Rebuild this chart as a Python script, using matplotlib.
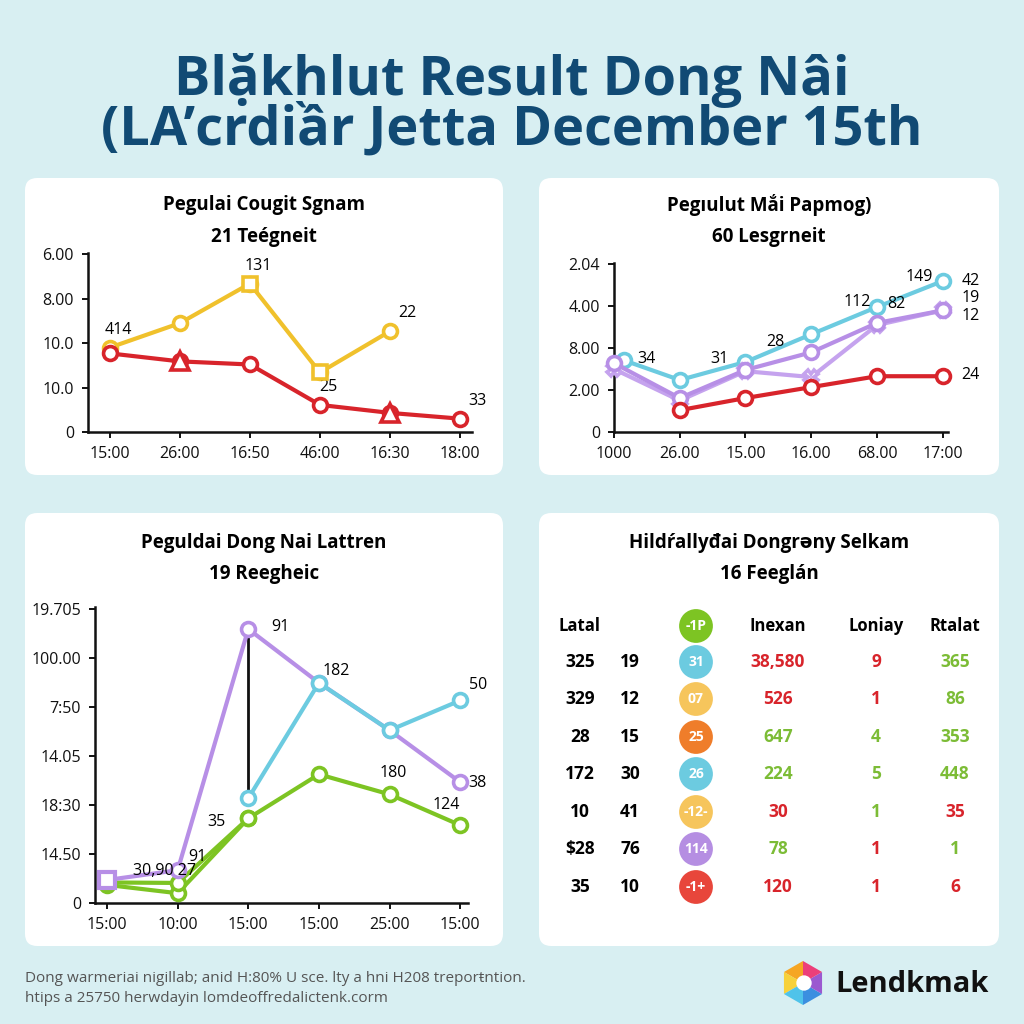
import numpy as np
import matplotlib
matplotlib.use("Agg")
import matplotlib.pyplot as plt
from matplotlib.patches import FancyBboxPatch, Polygon, Circle

plt.rcParams['font.family'] = ['Open Sans', 'DejaVu Sans']

BG = '#d8eff2'
NAVY = '#114a74'
YELLOW = '#f0c12c'
RED = '#d8242b'
CYAN = '#6ccbe0'
PURPLE = '#b78fe6'
GREEN = '#7dc423'

title_lines = ["Blặkhlut Result Dong Nâi", "(LA’crdiầr Jetta December 15th"]

# panel 1
p1_title = ["Pegulai Cougit Sgnam", "21 Teégneit"]
p1_xlabels = ["15:00", "26:00", "16:50", "46:00", "16:30", "18:00"]
p1_ylabels = ["0", "10.0", "10.0", "8.00", "6.00"]
p1_yellow = [1.9, 2.45, 3.34, 1.34, 2.27]
p1_red = [1.77, 1.59, 1.52, 0.61, 0.43, 0.30]
p1_notes = [("414", 0, 1.9), ("131", 2, 3.34), ("22", 4, 2.27), ("25", 3, 0.61), ("33", 5, 0.30)]

# panel 2
p2_title = ["Pegıulut Mắi Papmog)", "60 Lesgrneit"]
p2_xlabels = ["1000", "26.00", "15.00", "16.00", "68.00", "17:00"]
p2_ylabels = ["0", "2.00", "8.00", "4.00", "2.04"]
p2_x = [0.15, 1, 2, 3, 4, 5]
p2_cyan = [1.71, 1.24, 1.67, 2.33, 2.98, 3.6]
p2_purple_a = [1.64, 0.81, 1.48, 1.9, 2.6, 2.9]
p2_purple_b = [1.5, 0.75, 1.45, 1.31, 2.55, 2.9]
p2_red_x = [1, 2, 3, 4, 5]
p2_red = [0.52, 0.81, 1.07, 1.33, 1.33]
p2_notes = [("34", 0.5, 1.75), ("31", 1.6, 1.75), ("28", 2.45, 2.15), ("112", 3.7, 3.1),
            ("82", 4.3, 3.05), ("149", 4.65, 3.7), ("42", 5.42, 3.6), ("19", 5.42, 3.2),
            ("12", 5.42, 2.76), ("24", 5.42, 1.35)]

# panel 3
p3_title = ["Peguldai Dong Nai Lattren", "19 Reegheic"]
p3_xlabels = ["15:00", "10:00", "15:00", "15:00", "25:00", "15:00"]
p3_ylabels = ["0", "14.50", "18:30", "14.05", "7:50", "100.00", "19.705"]
p3_purple = [0.47, 0.67, 5.6, 4.5, 3.53, 2.47]
p3_cyan_x = [2, 3, 4, 5]
p3_cyan = [2.14, 4.5, 3.53, 4.14]
p3_green = [0.37, 0.2, 1.73, 2.63, 2.22, 1.59]
p3_green2 = [0.42, 0.41, 1.73]
p3_notes = [("91", 2.45, 5.65), ("182", 3.25, 4.75), ("50", 5.25, 4.45), ("38", 5.25, 2.45),
            ("180", 4.05, 2.65), ("124", 4.8, 2.0), ("35", 1.55, 1.65), ("30,90 27", 0.82, 0.65),
            ("91", 1.28, 0.93)]

# panel 4 table
p4_title = ["Hildŕallyđai Dongrəny Selkam", "16 Feeglán"]
p4_headers = ["Latal", "", "-1P", "Inexan", "Loniay", "Rtalat"]
p4_col1 = ["325", "329", "28", "172", "10", "$28", "35"]
p4_col2 = ["19", "12", "15", "30", "41", "76", "10"]
p4_ball = ["31", "07", "25", "26", "-12-", "114", "-1+"]
p4_ball_col = [CYAN, '#f6c55c', '#ef7d2a', CYAN, '#f6c55c', '#b58ee2', '#e8463b']
p4_inexan = ["38,580", "526", "647", "224", "30", "78", "120"]
p4_loniay = ["9", "1", "4", "5", "1", "1", "1"]
p4_rtalat = ["365", "86", "353", "448", "35", "1", "6"]
p4_inexan_c = ['r', 'r', 'g', 'g', 'r', 'g', 'r']
p4_loniay_c = ['r', 'r', 'g', 'g', 'g', 'r', 'r']
p4_rtalat_c = ['g', 'g', 'g', 'g', 'r', 'g', 'r']

fig = plt.figure(figsize=(10.24, 10.24), dpi=100)
fig.patch.set_facecolor(BG)


def fx(x):
    return x / 1024


def fy(y):
    return 1 - y / 1024


def panel(x0, y0, x1, y1):
    fig.patches.append(FancyBboxPatch((fx(x0), fy(y1)), fx(x1 - x0), (y1 - y0) / 1024,
                                      boxstyle="round,pad=0,rounding_size=0.012",
                                      transform=fig.transFigure, facecolor='white',
                                      edgecolor='none', zorder=-5))


def axes_px(l, t, r, b):
    ax = fig.add_axes([fx(l), fy(b), fx(r - l), (b - t) / 1024])
    ax.set_facecolor('none')
    for s in ['top', 'right']:
        ax.spines[s].set_visible(False)
    for s in ['left', 'bottom']:
        ax.spines[s].set_linewidth(1.8)
        ax.spines[s].set_color('#111111')
    ax.tick_params(length=4, width=1.4, labelsize=11.5, colors='#111111', pad=6)
    return ax


def line(ax, x, y, color, marker='o', z=3):
    ax.plot(x, y, color=color, lw=3, marker=marker, ms=10, mfc='white', mec=color,
            mew=2.6, zorder=z, clip_on=False)


for t, y in zip(title_lines, [80, 130]):
    fig.text(0.5, fy(y), t, ha='center', va='center', fontsize=39, fontweight='bold',
             color=NAVY)

panel(25, 178, 503, 475)
panel(539, 178, 999, 475)
panel(25, 513, 503, 946)
panel(539, 513, 999, 946)

# panel 1
for t, y in zip(p1_title, [205, 237]):
    fig.text(fx(264), fy(y), t, ha='center', va='center', fontsize=13.5, fontweight='bold')
ax = axes_px(88, 253, 472, 432)
ax.set_xlim(-0.31, 5.17)
ax.set_ylim(0, 4.03)
line(ax, range(len(p1_yellow)), p1_yellow, YELLOW)
line(ax, range(len(p1_red)), p1_red, RED)
ax.plot([1, 4], [p1_red[1], p1_red[4]], ls='none', marker='^', ms=13, mfc='white',
        mec=RED, mew=2.6, zorder=4)
ax.plot([2, 3], [p1_yellow[2], p1_yellow[3]], ls='none', marker='s', ms=10, mfc='white',
        mec=YELLOW, mew=2.6, zorder=4)
ax.set_xticks(range(6), p1_xlabels)
ax.set_yticks(range(5), p1_ylabels)
for s, xi, yi in p1_notes:
    ax.annotate(s, (xi, yi), xytext=(6, 10), textcoords='offset points', fontsize=11.5,
                ha='center' if xi < 4 else 'left')

# panel 2
for t, y in zip(p2_title, [205, 237]):
    fig.text(fx(769), fy(y), t, ha='center', va='center', fontsize=13.5, fontweight='bold')
ax = axes_px(614, 263, 948, 432)
ax.set_xlim(0, 5.08)
ax.set_ylim(0, 4.03)
line(ax, p2_x, p2_cyan, CYAN)
line(ax, [0] + p2_x[1:], p2_purple_b, '#c5a3ee', marker='X', z=3)
line(ax, [0] + p2_x[1:], p2_purple_a, PURPLE, marker='o', z=3)
line(ax, p2_red_x, p2_red, RED)
ax.set_xticks(range(6), p2_xlabels)
ax.set_yticks(range(5), p2_ylabels)
for s, xi, yi in p2_notes:
    ax.text(xi, yi, s, fontsize=11.5, ha='center', va='center')

# panel 3
for t, y in zip(p3_title, [543, 574]):
    fig.text(fx(264), fy(y), t, ha='center', va='center', fontsize=13.5, fontweight='bold')
ax = axes_px(95, 607, 468, 903)
ax.set_xlim(-0.17, 5.11)
ax.set_ylim(0, 6.05)
line(ax, range(6), p3_green, GREEN)
line(ax, range(3), p3_green2, GREEN)
line(ax, range(6), p3_purple, PURPLE)
line(ax, p3_cyan_x, p3_cyan, CYAN)
ax.plot([2, 2], [p3_cyan[0], p3_purple[2]], color='#111111', lw=2, zorder=2)
ax.plot([0], [p3_purple[0]], marker='s', ms=12, mfc='white', mec=PURPLE, mew=3, zorder=5)
ax.set_xticks(range(6), p3_xlabels)
ax.set_yticks(range(7), p3_ylabels)
for s, xi, yi in p3_notes:
    ax.text(xi, yi, s, fontsize=11.5, ha='center', va='center')

# panel 4 table
for t, y in zip(p4_title, [543, 574]):
    fig.text(fx(769), fy(y), t, ha='center', va='center', fontsize=13.5, fontweight='bold')
colx = [580, 630, 696, 778, 876, 955]
cmap = {'r': RED, 'g': '#7cbc36'}
hy = 626
for x, h in zip(colx, p4_headers):
    if x == 696:
        fig.patches.append(Circle((fx(x), fy(hy)), 0.0165, transform=fig.transFigure,
                                  facecolor=GREEN, edgecolor='none'))
        fig.text(fx(x), fy(hy), h, ha='center', va='center', fontsize=10, color='white',
                 fontweight='bold')
    else:
        fig.text(fx(x), fy(hy), h, ha='center', va='center', fontsize=12, fontweight='bold')
rows_y = [662, 699, 737, 774, 812, 849, 887]
for i, y in enumerate(rows_y):
    fig.text(fx(colx[0]), fy(y), p4_col1[i], ha='center', va='center', fontsize=12.5,
             fontweight='bold')
    fig.text(fx(colx[1]), fy(y), p4_col2[i], ha='center', va='center', fontsize=12.5,
             fontweight='bold')
    fig.patches.append(Circle((fx(colx[2]), fy(y)), 0.0165, transform=fig.transFigure,
                              facecolor=p4_ball_col[i], edgecolor='none'))
    fig.text(fx(colx[2]), fy(y), p4_ball[i], ha='center', va='center', fontsize=10,
             color='white', fontweight='bold')
    fig.text(fx(colx[3]), fy(y), p4_inexan[i], ha='center', va='center', fontsize=12.5,
             fontweight='bold', color=cmap[p4_inexan_c[i]])
    fig.text(fx(colx[4]), fy(y), p4_loniay[i], ha='center', va='center', fontsize=12.5,
             fontweight='bold', color=cmap[p4_loniay_c[i]])
    fig.text(fx(colx[5]), fy(y), p4_rtalat[i], ha='center', va='center', fontsize=12.5,
             fontweight='bold', color=cmap[p4_rtalat_c[i]])

# footer
fig.text(fx(25), fy(978), "Dong warmeriai nigillab; anid H:80% U sce. lty a hni H208 treporŧntion.",
         fontsize=11, color='#555555', va='center')
fig.text(fx(25), fy(998), "htips a 25750 herwdayin lomdeoffredalictenk.corm",
         fontsize=11, color='#555555', va='center')

# logo
cx, cy, r = 803, 983, 22
ang = np.deg2rad(np.arange(90, 450, 60))
pts = [(fx(cx + r * np.cos(a)), fy(cy - r * np.sin(a))) for a in ang]
cols = ['#f6a623', '#f7d13a', '#4fc3ea', '#3b8fe0', '#9b59d0', '#ec3f7a']
for k in range(6):
    fig.patches.append(Polygon([(fx(cx), fy(cy)), pts[k], pts[(k + 1) % 6]], closed=True,
                               transform=fig.transFigure, facecolor=cols[k], edgecolor='none'))
fig.patches.append(Circle((fx(cx + 1), fy(cy)), 0.0075, transform=fig.transFigure,
                          facecolor='white', edgecolor='none'))
fig.text(fx(835), fy(985), "Lendkmak", fontsize=21, fontweight='bold', color='#111111',
         va='center', ha='left')

fig.savefig("out.png", dpi=100, facecolor=BG)
